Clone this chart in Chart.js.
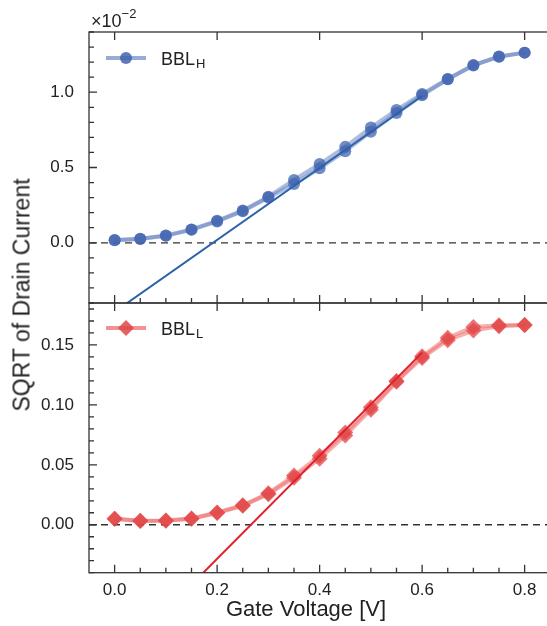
<!DOCTYPE html>
<html>
<head>
<meta charset="utf-8">
<script src="https://cdn.jsdelivr.net/npm/chart.js@4.4.0/dist/chart.umd.min.js"></script>
<style>
  html, body { margin: 0; padding: 0; background: #fff; overflow: hidden; width: 547px; height: 626px; }
  #wrap { position: relative; width: 560px; height: 626px; font-family: "Liberation Sans", Arial, sans-serif; color: #222; }
  .box { position: absolute; left: 0; width: 560px; }
  #topBox { top: 0; height: 310px; }
  #botBox { top: 290px; height: 336px; }
  #ylab { position: absolute; left: 22px; top: 295px; transform: translate(-50%, -50%) rotate(-90deg); font-size: 23px; white-space: nowrap; }
  #xlab { position: absolute; left: 306px; top: 609px; transform: translate(-50%, -50%); font-size: 22px; white-space: nowrap; }
  #mult { position: absolute; left: 91px; top: 8px; font-size: 18px; }
  #mult sup { font-size: 13px; position: relative; top: -2px; }
</style>
</head>
<body>
<div id="wrap">
  <div class="box" id="topBox"><canvas id="topChart" width="560" height="310"></canvas></div>
  <div class="box" id="botBox"><canvas id="botChart" width="560" height="336"></canvas></div>
  <div id="mult">×10<sup>−2</sup></div>
  <div id="ylab">SQRT of Drain Current</div>
  <div id="xlab">Gate Voltage [V]</div>
</div>
<script>
// gate voltage sweep [V]
const voltage = [0, 0.05, 0.1, 0.15, 0.2, 0.25, 0.3, 0.35, 0.4, 0.45, 0.5, 0.55, 0.6, 0.65, 0.7, 0.75, 0.8];

// BBL_H (x1e-2), two sweeps
const bblHFwd = [0.018, 0.027, 0.049, 0.089, 0.146, 0.215, 0.306, 0.417, 0.523, 0.637, 0.765, 0.882, 0.988, 1.088, 1.180, 1.237, 1.263];
const bblHRev = [0.016, 0.025, 0.046, 0.086, 0.142, 0.210, 0.300, 0.390, 0.495, 0.608, 0.738, 0.862, 0.980, 1.086, 1.178, 1.236, 1.263];

// BBL_L, two sweeps
const bblLFwd = [0.0050, 0.0033, 0.0036, 0.0053, 0.0102, 0.0163, 0.0263, 0.0410, 0.0575, 0.0770, 0.0980, 0.1200, 0.1405, 0.1560, 0.1650, 0.1665, 0.1667];
const bblLRev = [0.0050, 0.0032, 0.0034, 0.0050, 0.0098, 0.0158, 0.0255, 0.0392, 0.0550, 0.0745, 0.0960, 0.1192, 0.1392, 0.1540, 0.1620, 0.1655, 0.1667];

// linear fits: threshold voltage and slope, fitted over 0..0.6 V
const fitH = { vth: 0.192, slope: 2.39 };
const fitL = { vth: 0.266, slope: 0.43 };
const fitRange = [0, 0.6];

const xTicks = [0, 0.2, 0.4, 0.6, 0.8];
const topYTicks = [0, 0.5, 1.0];
const botYTicks = [0, 0.05, 0.10, 0.15];

const FONT = "'Liberation Sans', Arial, sans-serif";

function pts(ys) { return voltage.map((v, i) => ({ x: v, y: ys[i] })); }
function fitPts(f) { return fitRange.map(v => ({ x: v, y: f.slope * (v - f.vth) })); }
function fixTicks(list) { return s => { s.ticks = list.map(v => ({ value: v })); }; }
function noPad(s) { s.paddingTop = 0; s.paddingBottom = 0; s.paddingLeft = 0; s.paddingRight = 0; }

function marker(ctx, style, x, y, r) {
  ctx.beginPath();
  if (style === 'rectRot') {
    ctx.moveTo(x, y - r); ctx.lineTo(x + r, y); ctx.lineTo(x, y + r); ctx.lineTo(x - r, y); ctx.closePath();
  } else {
    ctx.arc(x, y, r, 0, Math.PI * 2);
  }
  ctx.fill();
}

const framePlugin = {
  id: 'frame',
  beforeDatasetsDraw(chart) {
    const { ctx, chartArea: a, scales: { y } } = chart;
    const y0 = y.getPixelForValue(0);
    ctx.save();
    ctx.strokeStyle = '#333';
    ctx.lineWidth = 1.3;
    ctx.setLineDash([7, 5]);
    ctx.beginPath(); ctx.moveTo(a.left, y0); ctx.lineTo(a.right, y0); ctx.stroke();
    ctx.restore();
  },
  afterDatasetsDraw(chart, args, o) {
    const { ctx, chartArea: a, scales: { x, y } } = chart;
    ctx.save();
    ctx.strokeStyle = '#333';
    ctx.lineWidth = 1.3;
    ctx.strokeRect(a.left, a.top, a.right - a.left, a.bottom - a.top);
    ctx.beginPath();
    // x ticks: majors top+bottom, minors bottom
    for (let v = 0; v <= 0.8001; v += 0.05) {
      const px = x.getPixelForValue(v);
      const major = Math.abs(v / 0.2 - Math.round(v / 0.2)) < 1e-6;
      const len = major ? 8 : 5;
      ctx.moveTo(px, a.bottom); ctx.lineTo(px, a.bottom - len);
      if (major) { ctx.moveTo(px, a.top); ctx.lineTo(px, a.top + len); }
    }
    // y ticks on the left
    for (let v = o.yMin; v <= o.yMax + 1e-9; v += o.yMinor) {
      const py = y.getPixelForValue(v);
      if (py < a.top - 0.5 || py > a.bottom + 0.5) continue;
      const major = Math.abs(v / o.yMajor - Math.round(v / o.yMajor)) < 1e-6;
      ctx.moveTo(a.left, py); ctx.lineTo(a.left + (major ? 8 : 5), py);
    }
    ctx.stroke();

    // legend
    const L = o.legend;
    const ly = a.top + L.dy;
    ctx.strokeStyle = L.line;
    ctx.lineWidth = 4;
    ctx.beginPath(); ctx.moveTo(a.left + 17, ly); ctx.lineTo(a.left + 57, ly); ctx.stroke();
    ctx.fillStyle = L.point;
    marker(ctx, L.style, a.left + 37, ly, L.r);
    ctx.fillStyle = '#222';
    ctx.textBaseline = 'alphabetic';
    ctx.font = '18px ' + FONT;
    ctx.fillText(L.label, a.left + 72, ly + 6.5);
    const w = ctx.measureText(L.label).width;
    ctx.font = '13px ' + FONT;
    ctx.fillText(L.sub, a.left + 72 + w + 1, ly + 9.5);
    ctx.restore();
  }
};

function yAxis(min, max, list, digits) {
  return {
    type: 'linear', min, max, bounds: 'data',
    afterFit(s) { s.width = 89; noPad(s); },
    afterBuildTicks: fixTicks(list),
    grid: { display: false }, border: { display: false },
    ticks: {
      padding: 7, color: '#222',
      font: { family: FONT, size: 17 },
      callback: v => v.toFixed(digits)
    }
  };
}

const xBase = { type: 'linear', min: -0.05, max: 0.85, bounds: 'data', afterBuildTicks: fixTicks(xTicks) };

new Chart(document.getElementById('topChart'), {
  type: 'line',
  data: {
    datasets: [
      { data: fitPts(fitH), borderColor: '#2d62a8', borderWidth: 2, pointRadius: 0 },
      { data: pts(bblHFwd), borderColor: 'rgba(105,135,195,0.55)', borderWidth: 4, pointRadius: 6,
        pointBackgroundColor: 'rgba(65,100,175,0.75)', pointBorderWidth: 0 },
      { data: pts(bblHRev), borderColor: 'rgba(105,135,195,0.55)', borderWidth: 4, pointRadius: 6,
        pointBackgroundColor: 'rgba(65,100,175,0.75)', pointBorderWidth: 0 }
    ]
  },
  options: {
    responsive: false, animation: false,
    layout: { padding: { top: 32, right: 9.75, bottom: 7, left: 0 } },
    plugins: {
      legend: { display: false }, tooltip: { enabled: false },
      frame: { yMin: -0.4, yMax: 1.4, yMinor: 0.1, yMajor: 0.5,
        legend: { label: 'BBL', sub: 'H', style: 'circle', r: 6, dy: 26,
          line: 'rgba(105,135,195,0.7)', point: 'rgba(65,100,175,0.85)' } }
    },
    scales: {
      x: { ...xBase, display: false, afterFit(s) { s.height = 0; noPad(s); } },
      y: yAxis(-0.4, 1.4, topYTicks, 1)
    }
  },
  plugins: [framePlugin]
});

new Chart(document.getElementById('botChart'), {
  type: 'line',
  data: {
    datasets: [
      { data: fitPts(fitL), borderColor: '#e0202c', borderWidth: 2, pointRadius: 0 },
      { data: pts(bblLFwd), borderColor: 'rgba(238,110,110,0.55)', borderWidth: 4, pointRadius: 8, pointStyle: 'rectRot',
        pointBackgroundColor: 'rgba(225,70,70,0.75)', pointBorderWidth: 0 },
      { data: pts(bblLRev), borderColor: 'rgba(238,110,110,0.55)', borderWidth: 4, pointRadius: 8, pointStyle: 'rectRot',
        pointBackgroundColor: 'rgba(225,70,70,0.75)', pointBorderWidth: 0 }
    ]
  },
  options: {
    responsive: false, animation: false,
    layout: { padding: { top: 13, right: 9.75, bottom: 0, left: 0 } },
    plugins: {
      legend: { display: false }, tooltip: { enabled: false },
      frame: { yMin: -0.04, yMax: 0.185, yMinor: 0.01, yMajor: 0.05,
        legend: { label: 'BBL', sub: 'L', style: 'rectRot', r: 8, dy: 25,
          line: 'rgba(238,110,110,0.75)', point: 'rgba(225,70,70,0.85)' } }
    },
    scales: {
      x: {
        ...xBase,
        afterFit(s) { s.height = 53.3; noPad(s); },
        grid: { display: false }, border: { display: false },
        ticks: { padding: -1, color: '#222',
          font: { family: FONT, size: 17 }, callback: v => v.toFixed(1) }
      },
      y: yAxis(-0.04, 0.185, botYTicks, 2)
    }
  },
  plugins: [framePlugin]
});
</script>
</body>
</html>
